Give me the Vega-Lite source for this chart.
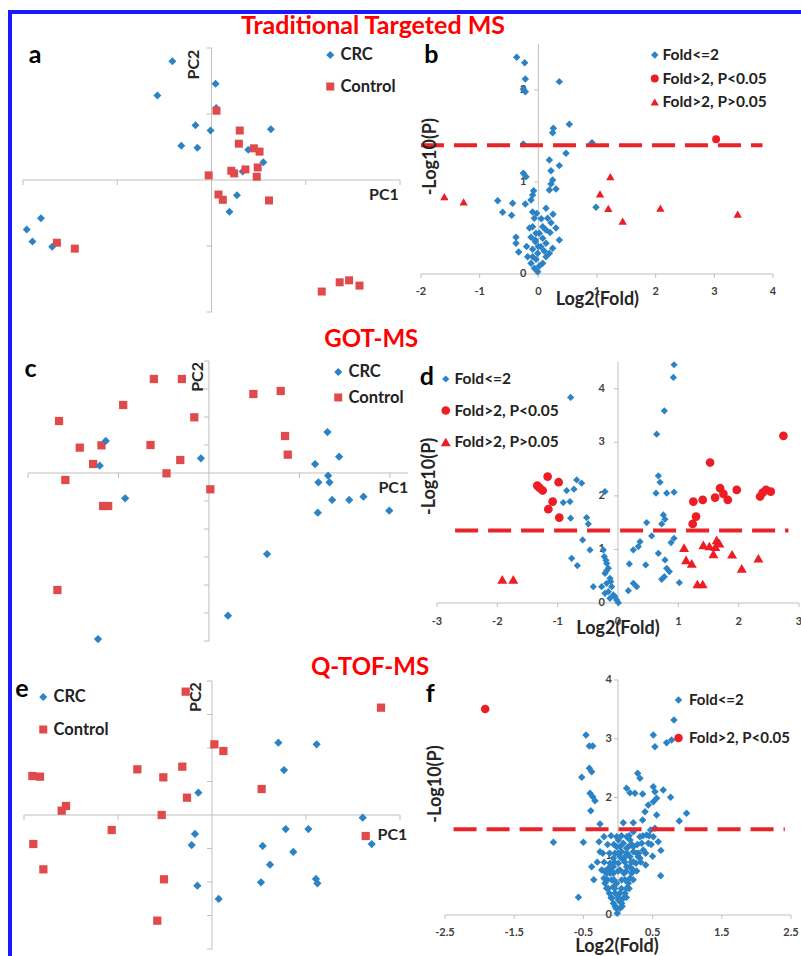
{
"$schema": "https://vega.github.io/schema/vega-lite/v6.json",
"width": 791, "height": 944,
"autosize": {"type": "none"},
"padding": {"left": 10, "top": 12, "right": 0, "bottom": 0},
"background": "white",
"config": {
 "view": {"stroke": "#1a1aff", "strokeWidth": 4, "strokeDash": [792, 1733, 945]},
 "font": "Lato",
 "legend": {"labelFont": "Lato", "labelFontWeight": "bold", "labelColor": "#222222", "padding": 0, "symbolStrokeWidth": 0},
 "text": {"font": "Lato"},
 "tick": {"opacity": 1},
 "rule": {"opacity": 1}
},
"datasets": {
 "a": [
  {"x":-0.415,"y":1.80,"g":"CRC"},{"x":0.043,"y":1.46,"g":"CRC"},{"x":-0.574,"y":1.28,"g":"CRC"},{"x":-0.17,"y":0.83,"g":"CRC"},{"x":-0.01,"y":0.75,"g":"CRC"},{"x":0.63,"y":0.77,"g":"CRC"},{"x":-0.32,"y":0.52,"g":"CRC"},{"x":-0.15,"y":0.49,"g":"CRC"},{"x":0.39,"y":0.46,"g":"CRC"},{"x":0.55,"y":0.27,"g":"CRC"},{"x":0.33,"y":0.13,"g":"CRC"},{"x":0.27,"y":-0.23,"g":"CRC"},{"x":0.19,"y":-0.48,"g":"CRC"},{"x":-1.81,"y":-0.58,"g":"CRC"},{"x":-1.96,"y":-0.75,"g":"CRC"},{"x":-1.90,"y":-0.93,"g":"CRC"},{"x":-1.69,"y":-1.01,"g":"CRC"},{"x":0.05,"y":1.09,"g":"CRC"},
  {"x":0.053,"y":1.05,"g":"Control"},{"x":0.30,"y":0.75,"g":"Control"},{"x":0.29,"y":0.55,"g":"Control"},{"x":0.45,"y":0.48,"g":"Control"},{"x":0.51,"y":0.43,"g":"Control"},{"x":-0.03,"y":0.07,"g":"Control"},{"x":0.21,"y":0.14,"g":"Control"},{"x":0.24,"y":0.10,"g":"Control"},{"x":0.36,"y":0.16,"g":"Control"},{"x":0.49,"y":0.19,"g":"Control"},{"x":0.48,"y":0.05,"g":"Control"},{"x":0.074,"y":-0.22,"g":"Control"},{"x":0.12,"y":-0.30,"g":"Control"},{"x":0.61,"y":-0.31,"g":"Control"},{"x":-1.64,"y":-0.95,"g":"Control"},{"x":-1.45,"y":-1.04,"g":"Control"},{"x":1.17,"y":-1.69,"g":"Control"},{"x":1.36,"y":-1.55,"g":"Control"},{"x":1.46,"y":-1.52,"g":"Control"},{"x":1.57,"y":-1.60,"g":"Control"}
 ],
 "b": [
  {"x":-0.369,"y":2.355,"g":"Fold<=2"},{"x":-0.233,"y":2.297,"g":"Fold<=2"},{"x":-0.222,"y":2.120,"g":"Fold<=2"},{"x":-0.256,"y":2.007,"g":"Fold<=2"},{"x":-0.222,"y":1.982,"g":"Fold<=2"},{"x":0.358,"y":2.091,"g":"Fold<=2"},{"x":0.528,"y":1.627,"g":"Fold<=2"},{"x":0.256,"y":1.583,"g":"Fold<=2"},{"x":0.244,"y":1.536,"g":"Fold<=2"},{"x":-0.256,"y":1.413,"g":"Fold<=2"},{"x":0.915,"y":1.428,"g":"Fold<=2"},{"x":0.472,"y":1.312,"g":"Fold<=2"},{"x":0.188,"y":1.239,"g":"Fold<=2"},{"x":0.358,"y":1.178,"g":"Fold<=2"},{"x":0.216,"y":1.123,"g":"Fold<=2"},{"x":-0.256,"y":1.094,"g":"Fold<=2"},{"x":-0.210,"y":1.058,"g":"Fold<=2"},{"x":0.244,"y":1.022,"g":"Fold<=2"},{"x":0.216,"y":0.978,"g":"Fold<=2"},{"x":0.188,"y":0.913,"g":"Fold<=2"},{"x":0.301,"y":0.924,"g":"Fold<=2"},{"x":-0.080,"y":0.906,"g":"Fold<=2"},{"x":-0.097,"y":0.859,"g":"Fold<=2"},{"x":-0.125,"y":0.804,"g":"Fold<=2"},{"x":-0.222,"y":0.761,"g":"Fold<=2"},{"x":-0.693,"y":0.797,"g":"Fold<=2"},{"x":-0.438,"y":0.768,"g":"Fold<=2"},{"x":-0.608,"y":0.670,"g":"Fold<=2"},{"x":-0.455,"y":0.638,"g":"Fold<=2"},{"x":-0.097,"y":0.674,"g":"Fold<=2"},{"x":-0.028,"y":0.659,"g":"Fold<=2"},{"x":0.131,"y":0.714,"g":"Fold<=2"},{"x":0.983,"y":0.725,"g":"Fold<=2"},{"x":0.216,"y":0.558,"g":"Fold<=2"},{"x":-0.097,"y":0.514,"g":"Fold<=2"},{"x":0.074,"y":0.514,"g":"Fold<=2"},{"x":0.131,"y":0.478,"g":"Fold<=2"},{"x":0.017,"y":0.442,"g":"Fold<=2"},{"x":-0.125,"y":0.399,"g":"Fold<=2"},{"x":-0.051,"y":0.370,"g":"Fold<=2"},{"x":0.358,"y":0.370,"g":"Fold<=2"},{"x":-0.381,"y":0.399,"g":"Fold<=2"},{"x":-0.381,"y":0.333,"g":"Fold<=2"},{"x":0.131,"y":0.333,"g":"Fold<=2"},{"x":0.244,"y":0.279,"g":"Fold<=2"},{"x":-0.335,"y":0.239,"g":"Fold<=2"},{"x":-0.097,"y":0.268,"g":"Fold<=2"},{"x":-0.011,"y":0.225,"g":"Fold<=2"},{"x":0.188,"y":0.225,"g":"Fold<=2"},{"x":-0.040,"y":0.159,"g":"Fold<=2"},{"x":-0.125,"y":0.116,"g":"Fold<=2"},{"x":0.017,"y":0.087,"g":"Fold<=2"},{"x":-0.068,"y":0.062,"g":"Fold<=2"},{"x":-0.011,"y":0.025,"g":"Fold<=2"},{"x":0.074,"y":0.116,"g":"Fold<=2"},{"x":0.131,"y":0.188,"g":"Fold<=2"},{"x":-0.182,"y":0.188,"g":"Fold<=2"},{"x":-0.097,"y":0.188,"g":"Fold<=2"},{"x":0.045,"y":0.297,"g":"Fold<=2"},{"x":0.074,"y":0.388,"g":"Fold<=2"},{"x":0.159,"y":0.605,"g":"Fold<=2"},{"x":-0.068,"y":0.605,"g":"Fold<=2"},{"x":-0.040,"y":0.442,"g":"Fold<=2"},{"x":0.0,"y":0.30,"g":"Fold<=2"},{"x":0.10,"y":0.25,"g":"Fold<=2"},{"x":-0.05,"y":0.35,"g":"Fold<=2"},{"x":0.20,"y":0.45,"g":"Fold<=2"},{"x":-0.15,"y":0.50,"g":"Fold<=2"},{"x":0.05,"y":0.60,"g":"Fold<=2"},{"x":0.25,"y":0.65,"g":"Fold<=2"},{"x":-0.20,"y":0.30,"g":"Fold<=2"},{"x":0.30,"y":0.50,"g":"Fold<=2"},
  {"x":3.03,"y":1.464,"g":"Fold>2, P<0.05"},
  {"x":-1.602,"y":0.841,"g":"Fold>2, P>0.05"},{"x":-1.273,"y":0.783,"g":"Fold>2, P>0.05"},{"x":1.051,"y":0.870,"g":"Fold>2, P>0.05"},{"x":1.227,"y":1.058,"g":"Fold>2, P>0.05"},{"x":1.193,"y":0.714,"g":"Fold>2, P>0.05"},{"x":1.438,"y":0.576,"g":"Fold>2, P>0.05"},{"x":2.080,"y":0.717,"g":"Fold>2, P>0.05"},{"x":3.398,"y":0.652,"g":"Fold>2, P>0.05"}
 ],
 "c": [
  {"x":-1.657,"y":1.857,"g":"Control"},{"x":-1.428,"y":0.905,"g":"Control"},{"x":-1.188,"y":0.988,"g":"Control"},{"x":-1.280,"y":0.321,"g":"Control"},{"x":-1.587,"y":-0.25,"g":"Control"},{"x":-1.170,"y":-1.179,"g":"Control"},{"x":-1.114,"y":-1.179,"g":"Control"},{"x":-0.948,"y":2.429,"g":"Control"},{"x":-0.609,"y":3.357,"g":"Control"},{"x":-0.299,"y":3.357,"g":"Control"},{"x":-0.162,"y":1.988,"g":"Control"},{"x":-0.646,"y":1.0,"g":"Control"},{"x":-0.469,"y":-0.012,"g":"Control"},{"x":-0.317,"y":0.464,"g":"Control"},{"x":0.015,"y":-0.583,"g":"Control"},{"x":0.491,"y":2.821,"g":"Control"},{"x":0.793,"y":2.929,"g":"Control"},{"x":0.841,"y":1.321,"g":"Control"},{"x":0.871,"y":0.655,"g":"Control"},{"x":-1.675,"y":-4.179,"g":"Control"},
  {"x":-1.140,"y":1.143,"g":"CRC"},{"x":-1.207,"y":0.262,"g":"CRC"},{"x":-0.926,"y":-0.905,"g":"CRC"},{"x":-0.089,"y":0.524,"g":"CRC"},{"x":1.310,"y":1.464,"g":"CRC"},{"x":1.439,"y":0.583,"g":"CRC"},{"x":1.173,"y":0.321,"g":"CRC"},{"x":1.317,"y":-0.095,"g":"CRC"},{"x":1.210,"y":-0.333,"g":"CRC"},{"x":1.332,"y":-0.333,"g":"CRC"},{"x":1.362,"y":-0.964,"g":"CRC"},{"x":1.550,"y":-0.964,"g":"CRC"},{"x":1.708,"y":-0.845,"g":"CRC"},{"x":1.993,"y":-1.345,"g":"CRC"},{"x":1.203,"y":-1.417,"g":"CRC"},{"x":0.642,"y":-2.893,"g":"CRC"},{"x":0.210,"y":-5.095,"g":"CRC"},{"x":-1.226,"y":-5.93,"g":"CRC"}
 ],
 "d": [
  {"x":0.929,"y":4.449,"g":"Fold<=2"},{"x":0.918,"y":4.212,"g":"Fold<=2"},{"x":0.768,"y":3.589,"g":"Fold<=2"},{"x":0.641,"y":3.153,"g":"Fold<=2"},{"x":-0.785,"y":3.838,"g":"Fold<=2"},{"x":0.669,"y":2.374,"g":"Fold<=2"},{"x":0.697,"y":2.255,"g":"Fold<=2"},{"x":0.630,"y":2.050,"g":"Fold<=2"},{"x":0.807,"y":2.050,"g":"Fold<=2"},{"x":0.929,"y":2.069,"g":"Fold<=2"},{"x":0.752,"y":1.645,"g":"Fold<=2"},{"x":0.779,"y":1.564,"g":"Fold<=2"},{"x":0.475,"y":1.502,"g":"Fold<=2"},{"x":0.724,"y":1.477,"g":"Fold<=2"},{"x":0.558,"y":1.252,"g":"Fold<=2"},{"x":0.929,"y":1.209,"g":"Fold<=2"},{"x":0.879,"y":1.128,"g":"Fold<=2"},{"x":0.365,"y":1.146,"g":"Fold<=2"},{"x":0.254,"y":0.991,"g":"Fold<=2"},{"x":0.337,"y":1.053,"g":"Fold<=2"},{"x":0.669,"y":0.928,"g":"Fold<=2"},{"x":0.779,"y":0.804,"g":"Fold<=2"},{"x":0.459,"y":0.710,"g":"Fold<=2"},{"x":0.188,"y":0.729,"g":"Fold<=2"},{"x":0.807,"y":0.648,"g":"Fold<=2"},{"x":0.851,"y":0.586,"g":"Fold<=2"},{"x":0.768,"y":0.492,"g":"Fold<=2"},{"x":0.724,"y":0.442,"g":"Fold<=2"},{"x":1.017,"y":0.380,"g":"Fold<=2"},{"x":0.254,"y":0.368,"g":"Fold<=2"},{"x":0.310,"y":0.305,"g":"Fold<=2"},{"x":0.171,"y":0.231,"g":"Fold<=2"},{"x":-0.685,"y":2.299,"g":"Fold<=2"},{"x":-0.603,"y":2.237,"g":"Fold<=2"},{"x":-0.730,"y":2.125,"g":"Fold<=2"},{"x":-0.851,"y":2.100,"g":"Fold<=2"},{"x":-0.796,"y":1.894,"g":"Fold<=2"},{"x":-0.907,"y":1.875,"g":"Fold<=2"},{"x":-0.216,"y":2.081,"g":"Fold<=2"},{"x":-0.785,"y":1.583,"g":"Fold<=2"},{"x":-0.520,"y":1.595,"g":"Fold<=2"},{"x":-0.492,"y":1.477,"g":"Fold<=2"},{"x":-0.586,"y":1.178,"g":"Fold<=2"},{"x":-0.464,"y":0.991,"g":"Fold<=2"},{"x":-0.768,"y":0.835,"g":"Fold<=2"},{"x":-0.674,"y":0.698,"g":"Fold<=2"},{"x":-0.243,"y":0.991,"g":"Fold<=2"},{"x":-0.227,"y":0.866,"g":"Fold<=2"},{"x":-0.188,"y":0.741,"g":"Fold<=2"},{"x":-0.160,"y":0.648,"g":"Fold<=2"},{"x":-0.216,"y":0.555,"g":"Fold<=2"},{"x":-0.133,"y":0.461,"g":"Fold<=2"},{"x":-0.188,"y":0.368,"g":"Fold<=2"},{"x":-0.105,"y":0.305,"g":"Fold<=2"},{"x":-0.160,"y":0.212,"g":"Fold<=2"},{"x":-0.077,"y":0.150,"g":"Fold<=2"},{"x":-0.022,"y":0.056,"g":"Fold<=2"},{"x":-0.050,"y":0.118,"g":"Fold<=2"},{"x":-0.409,"y":0.305,"g":"Fold<=2"},{"x":-0.271,"y":0.305,"g":"Fold<=2"},{"x":-0.216,"y":0.181,"g":"Fold<=2"},{"x":-0.133,"y":0.087,"g":"Fold<=2"},{"x":0.006,"y":0.006,"g":"Fold<=2"},{"x":-0.200,"y":0.800,"g":"Fold<=2"},{"x":-0.190,"y":0.600,"g":"Fold<=2"},{"x":-0.120,"y":0.400,"g":"Fold<=2"},
  {"x":-1.338,"y":2.193,"g":"Fold>2, P<0.05"},{"x":-1.249,"y":2.100,"g":"Fold>2, P<0.05"},{"x":-1.166,"y":2.361,"g":"Fold>2, P<0.05"},{"x":-0.984,"y":2.255,"g":"Fold>2, P<0.05"},{"x":-1.083,"y":1.894,"g":"Fold>2, P<0.05"},{"x":-1.155,"y":1.751,"g":"Fold>2, P<0.05"},{"x":-0.973,"y":1.595,"g":"Fold>2, P<0.05"},{"x":-1.300,"y":2.150,"g":"Fold>2, P<0.05"},{"x":2.742,"y":3.121,"g":"Fold>2, P<0.05"},{"x":1.526,"y":2.623,"g":"Fold>2, P<0.05"},{"x":1.249,"y":1.894,"g":"Fold>2, P<0.05"},{"x":1.404,"y":1.925,"g":"Fold>2, P<0.05"},{"x":1.294,"y":1.614,"g":"Fold>2, P<0.05"},{"x":1.238,"y":1.477,"g":"Fold>2, P<0.05"},{"x":1.609,"y":1.969,"g":"Fold>2, P<0.05"},{"x":1.692,"y":2.143,"g":"Fold>2, P<0.05"},{"x":1.747,"y":2.037,"g":"Fold>2, P<0.05"},{"x":1.819,"y":1.925,"g":"Fold>2, P<0.05"},{"x":1.968,"y":2.112,"g":"Fold>2, P<0.05"},{"x":2.355,"y":1.988,"g":"Fold>2, P<0.05"},{"x":2.399,"y":2.062,"g":"Fold>2, P<0.05"},{"x":2.454,"y":2.112,"g":"Fold>2, P<0.05"},{"x":2.532,"y":2.081,"g":"Fold>2, P<0.05"},
  {"x":-1.918,"y":0.442,"g":"Fold>2, P>0.05"},{"x":-1.736,"y":0.442,"g":"Fold>2, P>0.05"},{"x":1.095,"y":1.034,"g":"Fold>2, P>0.05"},{"x":1.128,"y":0.804,"g":"Fold>2, P>0.05"},{"x":1.222,"y":0.741,"g":"Fold>2, P>0.05"},{"x":1.316,"y":0.355,"g":"Fold>2, P>0.05"},{"x":1.404,"y":0.355,"g":"Fold>2, P>0.05"},{"x":1.415,"y":1.084,"g":"Fold>2, P>0.05"},{"x":1.515,"y":1.065,"g":"Fold>2, P>0.05"},{"x":1.581,"y":0.916,"g":"Fold>2, P>0.05"},{"x":1.636,"y":1.178,"g":"Fold>2, P>0.05"},{"x":1.681,"y":1.115,"g":"Fold>2, P>0.05"},{"x":1.614,"y":1.053,"g":"Fold>2, P>0.05"},{"x":1.891,"y":0.910,"g":"Fold>2, P>0.05"},{"x":2.051,"y":0.648,"g":"Fold>2, P>0.05"},{"x":2.327,"y":0.835,"g":"Fold>2, P>0.05"}
 ],
 "e": [
  {"x":-0.280,"y":3.682,"g":"Control"},{"x":1.798,"y":3.204,"g":"Control"},{"x":0.025,"y":2.109,"g":"Control"},{"x":0.121,"y":1.910,"g":"Control"},{"x":-0.794,"y":1.363,"g":"Control"},{"x":-0.518,"y":1.124,"g":"Control"},{"x":-0.316,"y":1.443,"g":"Control"},{"x":-1.911,"y":1.164,"g":"Control"},{"x":-1.830,"y":1.144,"g":"Control"},{"x":0.528,"y":0.776,"g":"Control"},{"x":-0.266,"y":0.517,"g":"Control"},{"x":-1.599,"y":0.129,"g":"Control"},{"x":-1.553,"y":0.269,"g":"Control"},{"x":-0.535,"y":0.0,"g":"Control"},{"x":-1.067,"y":-0.448,"g":"Control"},{"x":-1.901,"y":-0.866,"g":"Control"},{"x":-1.794,"y":-1.622,"g":"Control"},{"x":-0.511,"y":-1.920,"g":"Control"},{"x":-0.582,"y":-3.154,"g":"Control"},{"x":1.635,"y":-0.627,"g":"Control"},
  {"x":0.706,"y":2.159,"g":"CRC"},{"x":1.113,"y":2.109,"g":"CRC"},{"x":0.766,"y":1.343,"g":"CRC"},{"x":-0.145,"y":0.667,"g":"CRC"},{"x":1.603,"y":-0.080,"g":"CRC"},{"x":0.784,"y":-0.418,"g":"CRC"},{"x":1.025,"y":-0.418,"g":"CRC"},{"x":-0.181,"y":-0.567,"g":"CRC"},{"x":-0.216,"y":-0.896,"g":"CRC"},{"x":0.539,"y":-0.925,"g":"CRC"},{"x":0.865,"y":-1.104,"g":"CRC"},{"x":1.699,"y":-0.866,"g":"CRC"},{"x":0.617,"y":-1.483,"g":"CRC"},{"x":0.521,"y":-2.010,"g":"CRC"},{"x":1.106,"y":-1.910,"g":"CRC"},{"x":1.121,"y":-2.040,"g":"CRC"},{"x":-0.156,"y":-2.109,"g":"CRC"},{"x":0.071,"y":-2.507,"g":"CRC"}
 ],
 "f": [
  {"x":-0.462,"y":3.064,"g":"Fold<=2"},{"x":-0.414,"y":2.877,"g":"Fold<=2"},{"x":-0.366,"y":2.877,"g":"Fold<=2"},{"x":-0.524,"y":2.343,"g":"Fold<=2"},{"x":-0.414,"y":2.496,"g":"Fold<=2"},{"x":-0.380,"y":2.440,"g":"Fold<=2"},{"x":-0.404,"y":2.071,"g":"Fold<=2"},{"x":-0.366,"y":2.014,"g":"Fold<=2"},{"x":-0.394,"y":1.776,"g":"Fold<=2"},{"x":-0.260,"y":1.549,"g":"Fold<=2"},{"x":-0.332,"y":1.946,"g":"Fold<=2"},{"x":-0.933,"y":1.237,"g":"Fold<=2"},{"x":-0.500,"y":1.237,"g":"Fold<=2"},{"x":-0.274,"y":1.248,"g":"Fold<=2"},{"x":-0.202,"y":1.333,"g":"Fold<=2"},{"x":-0.260,"y":1.078,"g":"Fold<=2"},{"x":-0.380,"y":0.823,"g":"Fold<=2"},{"x":-0.236,"y":0.766,"g":"Fold<=2"},{"x":-0.572,"y":0.301,"g":"Fold<=2"},
  {"x":0.808,"y":3.319,"g":"Fold<=2"},{"x":0.510,"y":3.064,"g":"Fold<=2"},{"x":0.534,"y":2.865,"g":"Fold<=2"},{"x":0.702,"y":2.933,"g":"Fold<=2"},{"x":0.774,"y":2.979,"g":"Fold<=2"},{"x":0.284,"y":2.411,"g":"Fold<=2"},{"x":0.317,"y":2.326,"g":"Fold<=2"},{"x":0.125,"y":2.156,"g":"Fold<=2"},{"x":0.173,"y":2.082,"g":"Fold<=2"},{"x":0.245,"y":2.071,"g":"Fold<=2"},{"x":0.356,"y":2.060,"g":"Fold<=2"},{"x":0.510,"y":2.184,"g":"Fold<=2"},{"x":0.534,"y":2.099,"g":"Fold<=2"},{"x":0.654,"y":2.128,"g":"Fold<=2"},{"x":0.760,"y":2.003,"g":"Fold<=2"},{"x":0.438,"y":1.872,"g":"Fold<=2"},{"x":0.558,"y":1.986,"g":"Fold<=2"},{"x":0.510,"y":1.929,"g":"Fold<=2"},{"x":0.558,"y":1.702,"g":"Fold<=2"},{"x":0.991,"y":1.730,"g":"Fold<=2"},{"x":0.885,"y":1.600,"g":"Fold<=2"},{"x":0.390,"y":1.759,"g":"Fold<=2"},{"x":0.356,"y":1.617,"g":"Fold<=2"},{"x":0.077,"y":1.572,"g":"Fold<=2"},{"x":0.221,"y":1.572,"g":"Fold<=2"},{"x":0.471,"y":1.447,"g":"Fold<=2"},{"x":0.534,"y":1.475,"g":"Fold<=2"},
  {"x":-0.019,"y":1.333,"g":"Fold<=2"},{"x":0.125,"y":1.333,"g":"Fold<=2"},{"x":0.221,"y":1.418,"g":"Fold<=2"},{"x":0.317,"y":1.333,"g":"Fold<=2"},{"x":0.414,"y":1.362,"g":"Fold<=2"},{"x":0.510,"y":1.333,"g":"Fold<=2"},{"x":0.582,"y":1.248,"g":"Fold<=2"},{"x":0.438,"y":1.220,"g":"Fold<=2"},{"x":0.366,"y":1.106,"g":"Fold<=2"},{"x":0.269,"y":1.050,"g":"Fold<=2"},{"x":0.173,"y":0.993,"g":"Fold<=2"},{"x":0.221,"y":0.908,"g":"Fold<=2"},{"x":0.317,"y":0.965,"g":"Fold<=2"},{"x":0.173,"y":0.823,"g":"Fold<=2"},{"x":0.077,"y":0.936,"g":"Fold<=2"},{"x":0.029,"y":1.163,"g":"Fold<=2"},{"x":0.125,"y":1.135,"g":"Fold<=2"},{"x":0.221,"y":1.163,"g":"Fold<=2"},{"x":0.342,"y":1.220,"g":"Fold<=2"},{"x":0.616,"y":0.670,"g":"Fold<=2"},
  {"x":-0.010,"y":0.028,"g":"Fold<=2"},{"x":-0.029,"y":0.113,"g":"Fold<=2"},{"x":0.029,"y":0.113,"g":"Fold<=2"},{"x":-0.067,"y":0.199,"g":"Fold<=2"},{"x":0.053,"y":0.199,"g":"Fold<=2"},{"x":-0.091,"y":0.284,"g":"Fold<=2"},{"x":0.077,"y":0.284,"g":"Fold<=2"},{"x":-0.125,"y":0.369,"g":"Fold<=2"},{"x":0.101,"y":0.369,"g":"Fold<=2"},{"x":-0.164,"y":0.454,"g":"Fold<=2"},{"x":0.125,"y":0.454,"g":"Fold<=2"},{"x":-0.188,"y":0.539,"g":"Fold<=2"},{"x":0.149,"y":0.539,"g":"Fold<=2"},{"x":-0.202,"y":0.624,"g":"Fold<=2"},{"x":0.173,"y":0.624,"g":"Fold<=2"},{"x":-0.164,"y":0.709,"g":"Fold<=2"},{"x":0.197,"y":0.709,"g":"Fold<=2"},{"x":-0.139,"y":0.794,"g":"Fold<=2"},{"x":0.029,"y":0.766,"g":"Fold<=2"},{"x":0.221,"y":0.766,"g":"Fold<=2"},{"x":-0.115,"y":0.879,"g":"Fold<=2"},{"x":0.005,"y":0.879,"g":"Fold<=2"},{"x":0.260,"y":0.879,"g":"Fold<=2"},{"x":-0.067,"y":0.965,"g":"Fold<=2"},{"x":0.029,"y":0.993,"g":"Fold<=2"},{"x":0.293,"y":0.993,"g":"Fold<=2"},{"x":-0.043,"y":1.050,"g":"Fold<=2"},{"x":0.053,"y":1.078,"g":"Fold<=2"},{"x":-0.019,"y":1.163,"g":"Fold<=2"},{"x":0.077,"y":1.220,"g":"Fold<=2"},{"x":0.005,"y":1.277,"g":"Fold<=2"},{"x":0.173,"y":1.277,"g":"Fold<=2"},{"x":-0.067,"y":0.709,"g":"Fold<=2"},{"x":-0.019,"y":0.539,"g":"Fold<=2"},{"x":0.029,"y":0.369,"g":"Fold<=2"},{"x":-0.043,"y":0.369,"g":"Fold<=2"},{"x":0.053,"y":0.596,"g":"Fold<=2"},{"x":-0.067,"y":0.482,"g":"Fold<=2"},{"x":0.005,"y":0.255,"g":"Fold<=2"},{"x":-0.091,"y":0.596,"g":"Fold<=2"},{"x":0.087,"y":0.709,"g":"Fold<=2"},{"x":0.125,"y":0.823,"g":"Fold<=2"},{"x":-0.115,"y":0.709,"g":"Fold<=2"},{"x":-0.164,"y":0.596,"g":"Fold<=2"},{"x":0.101,"y":0.993,"g":"Fold<=2"},{"x":0.149,"y":1.163,"g":"Fold<=2"},{"x":0.221,"y":1.078,"g":"Fold<=2"},{"x":-0.067,"y":0.823,"g":"Fold<=2"},
  {"x":-0.04,"y":0.15,"g":"Fold<=2"},{"x":0.06,"y":0.15,"g":"Fold<=2"},{"x":-0.10,"y":0.30,"g":"Fold<=2"},{"x":0.0,"y":0.30,"g":"Fold<=2"},{"x":0.12,"y":0.30,"g":"Fold<=2"},{"x":-0.14,"y":0.45,"g":"Fold<=2"},{"x":-0.05,"y":0.45,"g":"Fold<=2"},{"x":0.05,"y":0.45,"g":"Fold<=2"},{"x":0.16,"y":0.45,"g":"Fold<=2"},{"x":-0.15,"y":0.60,"g":"Fold<=2"},{"x":-0.06,"y":0.60,"g":"Fold<=2"},{"x":0.10,"y":0.60,"g":"Fold<=2"},{"x":0.22,"y":0.60,"g":"Fold<=2"},{"x":-0.20,"y":0.75,"g":"Fold<=2"},{"x":-0.10,"y":0.75,"g":"Fold<=2"},{"x":0.0,"y":0.75,"g":"Fold<=2"},{"x":0.12,"y":0.75,"g":"Fold<=2"},{"x":0.27,"y":0.75,"g":"Fold<=2"},{"x":-0.20,"y":0.90,"g":"Fold<=2"},{"x":-0.05,"y":0.90,"g":"Fold<=2"},{"x":0.10,"y":0.90,"g":"Fold<=2"},{"x":0.19,"y":0.90,"g":"Fold<=2"},{"x":0.33,"y":0.90,"g":"Fold<=2"},{"x":-0.22,"y":1.05,"g":"Fold<=2"},{"x":-0.12,"y":1.05,"g":"Fold<=2"},{"x":0.0,"y":1.05,"g":"Fold<=2"},{"x":0.13,"y":1.05,"g":"Fold<=2"},{"x":0.30,"y":1.05,"g":"Fold<=2"},{"x":0.40,"y":1.05,"g":"Fold<=2"},{"x":-0.15,"y":1.20,"g":"Fold<=2"},{"x":-0.06,"y":1.20,"g":"Fold<=2"},{"x":0.20,"y":1.20,"g":"Fold<=2"},{"x":0.28,"y":1.20,"g":"Fold<=2"},{"x":0.48,"y":1.20,"g":"Fold<=2"},{"x":-0.10,"y":1.35,"g":"Fold<=2"},{"x":0.05,"y":1.35,"g":"Fold<=2"},{"x":0.16,"y":1.35,"g":"Fold<=2"},{"x":0.36,"y":1.35,"g":"Fold<=2"},{"x":0.45,"y":1.35,"g":"Fold<=2"},{"x":0.62,"y":1.10,"g":"Fold<=2"},{"x":0.50,"y":1.00,"g":"Fold<=2"},{"x":0.40,"y":0.85,"g":"Fold<=2"},{"x":-0.30,"y":0.90,"g":"Fold<=2"},{"x":-0.35,"y":0.60,"g":"Fold<=2"},
  {"x":-1.919,"y":3.506,"g":"Fold>2, P<0.05"}
 ]
},
"layer": [
 {"data": {"name": "a"}, "layer": [
  {"data": {"values": [{}]}, "mark": {"type": "rule", "color": "#bfbfbf", "strokeWidth": 1}, "encoding": {"x": {"datum": -2, "axis": null}, "x2": {"datum": 2}, "y": {"datum": 0, "axis": null}}},
  {"data": {"values": [{}]}, "mark": {"type": "rule", "color": "#bfbfbf", "strokeWidth": 1}, "encoding": {"x": {"datum": 0, "axis": null}, "y": {"datum": -2, "axis": null}, "y2": {"datum": 2}}},
  {"data": {"values": [{"v": -2}, {"v": -1}, {"v": 1}, {"v": 2}]}, "mark": {"type": "tick", "orient": "vertical", "size": 5, "thickness": 1, "color": "#bfbfbf", "yOffset": 2.5}, "encoding": {"x": {"field": "v", "type": "quantitative", "axis": null}, "y": {"datum": 0, "axis": null}}},
  {"data": {"values": [{"v": -2}, {"v": -1}, {"v": 1}, {"v": 2}]}, "mark": {"type": "tick", "orient": "horizontal", "size": 5, "thickness": 1, "color": "#bfbfbf", "xOffset": -2.5}, "encoding": {"y": {"field": "v", "type": "quantitative", "axis": null}, "x": {"datum": 0, "axis": null}}},
  {"mark": {"type": "point", "filled": true, "opacity": 1, "size": 64},
   "encoding": {
    "x": {"field": "x", "type": "quantitative", "scale": {"domain": [-2, 2], "range": [13, 390], "nice": false, "zero": false}, "axis": null},
    "y": {"field": "y", "type": "quantitative", "scale": {"domain": [-2, 2], "range": [300, 36], "nice": false, "zero": false}, "axis": null},
    "color": {"field": "g", "type": "nominal", "scale": {"domain": ["CRC", "Control"], "range": ["#2b83c6", "#e04a4a"]},
      "legend": {"orient": "none", "legendX": 312, "legendY": 34.75, "title": null, "labelFontSize": 16.5, "labelOffset": 2, "rowPadding": 14.5, "symbolSize": 64}},
    "shape": {"field": "g", "type": "nominal", "scale": {"domain": ["CRC", "Control"], "range": ["diamond", "square"]},
      "legend": {"orient": "none", "legendX": 312, "legendY": 34.75, "title": null, "labelFontSize": 16.5, "labelOffset": 2, "rowPadding": 14.5, "symbolSize": 64}}
   }},
  {"data": {"values": [{"t": "PC1"}]}, "mark": {"type": "text", "fontSize": 16, "fontWeight": "bold", "color": "#262626", "align": "center", "baseline": "middle", "dy": 15},
   "encoding": {"x": {"datum": 1.83, "axis": null}, "y": {"datum": 0, "axis": null}, "text": {"field": "t"}}},
  {"data": {"values": [{"t": "PC2"}]}, "mark": {"type": "text", "fontSize": 16, "fontWeight": "bold", "color": "#262626", "align": "center", "baseline": "middle", "angle": 270},
   "encoding": {"x": {"datum": -0.181, "axis": null}, "y": {"datum": 1.75, "axis": null}, "text": {"field": "t"}}},
  {"data": {"values": [{"t": "a"}]}, "mark": {"type": "text", "fontSize": 25, "fontWeight": "bold", "color": "#000000", "align": "center", "baseline": "alphabetic"},
   "encoding": {"x": {"datum": -1.872, "axis": null}, "y": {"datum": 1.78, "axis": null}, "text": {"field": "t"}}},
  {"data": {"values": [{"t": "Traditional Targeted MS"}]}, "mark": {"type": "text", "fontSize": 25, "fontWeight": "bold", "color": "#ff0000", "align": "center", "baseline": "alphabetic"},
   "encoding": {"x": {"datum": 1.713, "axis": null}, "y": {"datum": 2.205, "axis": null}, "text": {"field": "t"}}}
 ]},
 {"data": {"name": "b"}, "layer": [
  {"data": {"values": [{}]}, "mark": {"type": "rule", "color": "#bfbfbf", "strokeWidth": 1}, "encoding": {"x": {"datum": -2, "axis": null}, "x2": {"datum": 4}, "y": {"datum": 0, "axis": null}}},
  {"data": {"values": [{}]}, "mark": {"type": "rule", "color": "#bfbfbf", "strokeWidth": 1}, "encoding": {"x": {"datum": 0, "axis": null}, "y": {"datum": 0, "axis": null}, "y2": {"datum": 2.5}}},
  {"data": {"values": [{"v": -2}, {"v": -1}, {"v": 0}, {"v": 1}, {"v": 2}, {"v": 3}, {"v": 4}]}, "mark": {"type": "tick", "orient": "vertical", "size": 4, "thickness": 1, "color": "#bfbfbf", "yOffset": 2}, "encoding": {"x": {"field": "v", "type": "quantitative", "axis": null}, "y": {"datum": 0, "axis": null}}},
  {"data": {"values": [{"v": -2}, {"v": -1}, {"v": 0}, {"v": 1}, {"v": 2}, {"v": 3}, {"v": 4}]}, "mark": {"type": "text", "fontSize": 11, "fontWeight": "bold", "color": "#404040", "align": "center", "baseline": "middle", "dy": 17.5}, "encoding": {"x": {"field": "v", "type": "quantitative", "axis": null}, "y": {"datum": 0, "axis": null}, "text": {"field": "v", "type": "nominal"}}},
  {"data": {"values": [{"v": 0}, {"v": 1}, {"v": 2}]}, "mark": {"type": "tick", "orient": "horizontal", "size": 4, "thickness": 1, "color": "#bfbfbf", "xOffset": -2}, "encoding": {"y": {"field": "v", "type": "quantitative", "axis": null}, "x": {"datum": 0, "axis": null}}},
  {"data": {"values": [{"v": 0}, {"v": 1}, {"v": 2}]}, "mark": {"type": "text", "fontSize": 11, "fontWeight": "bold", "color": "#404040", "align": "right", "baseline": "middle", "dx": -12}, "encoding": {"y": {"field": "v", "type": "quantitative", "axis": null}, "x": {"datum": 0, "axis": null}, "text": {"field": "v", "type": "nominal"}}},
  {"mark": {"type": "point", "filled": true, "opacity": 1},
   "encoding": {
    "x": {"field": "x", "type": "quantitative", "scale": {"domain": [-2, 4], "range": [411, 763], "nice": false, "zero": false}, "axis": null},
    "y": {"field": "y", "type": "quantitative", "scale": {"domain": [0, 2.5], "range": [262, 32], "nice": false, "zero": false}, "axis": null},
    "color": {"field": "g", "type": "nominal", "scale": {"domain": ["Fold<=2", "Fold>2, P<0.05", "Fold>2, P>0.05"], "range": ["#2b83c6", "#ee1c24", "#ee1c24"]},
      "legend": {"orient": "none", "legendX": 637, "legendY": 35.25, "title": null, "labelFontSize": 15.5, "labelOffset": 0, "rowPadding": 6.5, "symbolSize": 64}},
    "shape": {"field": "g", "type": "nominal", "scale": {"domain": ["Fold<=2", "Fold>2, P<0.05", "Fold>2, P>0.05"], "range": ["diamond", "circle", "triangle-up"]},
      "legend": {"orient": "none", "legendX": 637, "legendY": 35.25, "title": null, "labelFontSize": 15.5, "labelOffset": 0, "rowPadding": 6.5, "symbolSize": 64}},
    "size": {"field": "g", "type": "ordinal", "scale": {"domain": ["Fold<=2", "Fold>2, P<0.05", "Fold>2, P>0.05"], "range": [56, 70, 64]}, "legend": null}
   }},
  {"data": {"values": [{}]}, "mark": {"type": "rule", "color": "#e8232a", "strokeWidth": 4, "strokeDash": [23, 10]},
   "encoding": {"x": {"datum": -2, "axis": null}, "x2": {"datum": 3.82}, "y": {"datum": 1.4, "axis": null}}},
  {"data": {"values": [{"t": "Log2(Fold)"}]}, "mark": {"type": "text", "fontSize": 18, "fontWeight": "bold", "color": "#262626", "align": "center", "baseline": "middle", "dy": 25.5},
   "encoding": {"x": {"datum": 1.006, "axis": null}, "y": {"datum": 0, "axis": null}, "text": {"field": "t"}}},
  {"data": {"values": [{"t": "-Log10(P)"}]}, "mark": {"type": "text", "fontSize": 18, "fontWeight": "bold", "color": "#262626", "align": "center", "baseline": "middle", "angle": 270},
   "encoding": {"x": {"datum": -1.829, "axis": null}, "y": {"datum": 1.275, "axis": null}, "text": {"field": "t"}}},
  {"data": {"values": [{"t": "b"}]}, "mark": {"type": "text", "fontSize": 25, "fontWeight": "bold", "color": "#000000", "align": "center", "baseline": "alphabetic"},
   "encoding": {"x": {"datum": -1.824, "axis": null}, "y": {"datum": 2.293, "axis": null}, "text": {"field": "t"}}}
 ]},
 {"data": {"name": "c"}, "layer": [
  {"data": {"values": [{}]}, "mark": {"type": "rule", "color": "#bfbfbf", "strokeWidth": 1}, "encoding": {"x": {"datum": -2, "axis": null}, "x2": {"datum": 2.2}, "y": {"datum": 0, "axis": null}}},
  {"data": {"values": [{}]}, "mark": {"type": "rule", "color": "#bfbfbf", "strokeWidth": 1}, "encoding": {"x": {"datum": 0, "axis": null}, "y": {"datum": -6, "axis": null}, "y2": {"datum": 4}}},
  {"data": {"values": [{"v": -2}, {"v": -1}, {"v": 1}, {"v": 2}]}, "mark": {"type": "tick", "orient": "vertical", "size": 5, "thickness": 1, "color": "#bfbfbf", "yOffset": 2.5}, "encoding": {"x": {"field": "v", "type": "quantitative", "axis": null}, "y": {"datum": 0, "axis": null}}},
  {"data": {"values": [{"v": -6}, {"v": -5}, {"v": -4}, {"v": -3}, {"v": -2}, {"v": -1}, {"v": 1}, {"v": 2}, {"v": 3}, {"v": 4}]}, "mark": {"type": "tick", "orient": "horizontal", "size": 5, "thickness": 1, "color": "#bfbfbf", "xOffset": -2.5}, "encoding": {"y": {"field": "v", "type": "quantitative", "axis": null}, "x": {"datum": 0, "axis": null}}},
  {"mark": {"type": "point", "filled": true, "opacity": 1, "size": 68},
   "encoding": {
    "x": {"field": "x", "type": "quantitative", "scale": {"domain": [-2, 2.2], "range": [18, 398], "nice": false, "zero": false}, "axis": null},
    "y": {"field": "y", "type": "quantitative", "scale": {"domain": [-6, 4], "range": [629, 349], "nice": false, "zero": false}, "axis": null},
    "color": {"field": "g", "type": "nominal", "scale": {"domain": ["CRC", "Control"], "range": ["#2b83c6", "#e04a4a"]},
      "legend": {"orient": "none", "legendX": 320, "legendY": 351.75, "title": null, "labelFontSize": 16.5, "labelOffset": 2, "rowPadding": 8.5, "symbolSize": 64}},
    "shape": {"field": "g", "type": "nominal", "scale": {"domain": ["CRC", "Control"], "range": ["diamond", "square"]},
      "legend": {"orient": "none", "legendX": 320, "legendY": 351.75, "title": null, "labelFontSize": 16.5, "labelOffset": 2, "rowPadding": 8.5, "symbolSize": 64}}
   }},
  {"data": {"values": [{"t": "PC1"}]}, "mark": {"type": "text", "fontSize": 16, "fontWeight": "bold", "color": "#262626", "align": "center", "baseline": "middle", "dy": 15},
   "encoding": {"x": {"datum": 2.038, "axis": null}, "y": {"datum": 0, "axis": null}, "text": {"field": "t"}}},
  {"data": {"values": [{"t": "PC2"}]}, "mark": {"type": "text", "fontSize": 16, "fontWeight": "bold", "color": "#262626", "align": "center", "baseline": "middle", "angle": 270},
   "encoding": {"x": {"datum": -0.122, "axis": null}, "y": {"datum": 3.43, "axis": null}, "text": {"field": "t"}}},
  {"data": {"values": [{"t": "c"}]}, "mark": {"type": "text", "fontSize": 25, "fontWeight": "bold", "color": "#000000", "align": "center", "baseline": "alphabetic"},
   "encoding": {"x": {"datum": -1.971, "axis": null}, "y": {"datum": 3.429, "axis": null}, "text": {"field": "t"}}},
  {"data": {"values": [{"t": "GOT-MS"}]}, "mark": {"type": "text", "fontSize": 24, "fontWeight": "bold", "color": "#ff0000", "align": "center", "baseline": "alphabetic"},
   "encoding": {"x": {"datum": 1.794, "axis": null}, "y": {"datum": 4.5, "axis": null}, "text": {"field": "t"}}}
 ]},
 {"data": {"name": "d"}, "layer": [
  {"data": {"values": [{}]}, "mark": {"type": "rule", "color": "#bfbfbf", "strokeWidth": 1}, "encoding": {"x": {"datum": -3, "axis": null}, "x2": {"datum": 3}, "y": {"datum": 0, "axis": null}}},
  {"data": {"values": [{}]}, "mark": {"type": "rule", "color": "#bfbfbf", "strokeWidth": 1}, "encoding": {"x": {"datum": 0, "axis": null}, "y": {"datum": 0, "axis": null}, "y2": {"datum": 4.5}}},
  {"data": {"values": [{"v": -3}, {"v": -2}, {"v": -1}, {"v": 0}, {"v": 1}, {"v": 2}, {"v": 3}]}, "mark": {"type": "tick", "orient": "vertical", "size": 4, "thickness": 1, "color": "#bfbfbf", "yOffset": 2}, "encoding": {"x": {"field": "v", "type": "quantitative", "axis": null}, "y": {"datum": 0, "axis": null}}},
  {"data": {"values": [{"v": -3}, {"v": -2}, {"v": -1}, {"v": 0}, {"v": 1}, {"v": 2}, {"v": 3}]}, "mark": {"type": "text", "fontSize": 11, "fontWeight": "bold", "color": "#404040", "align": "center", "baseline": "middle", "dy": 18.5}, "encoding": {"x": {"field": "v", "type": "quantitative", "axis": null}, "y": {"datum": 0, "axis": null}, "text": {"field": "v", "type": "nominal"}}},
  {"data": {"values": [{"v": 0}, {"v": 1}, {"v": 2}, {"v": 3}, {"v": 4}]}, "mark": {"type": "tick", "orient": "horizontal", "size": 4, "thickness": 1, "color": "#bfbfbf", "xOffset": -2}, "encoding": {"y": {"field": "v", "type": "quantitative", "axis": null}, "x": {"datum": 0, "axis": null}}},
  {"data": {"values": [{"v": 0}, {"v": 1}, {"v": 2}, {"v": 3}, {"v": 4}]}, "mark": {"type": "text", "fontSize": 11, "fontWeight": "bold", "color": "#404040", "align": "right", "baseline": "middle", "dx": -13}, "encoding": {"y": {"field": "v", "type": "quantitative", "axis": null}, "x": {"datum": 0, "axis": null}, "text": {"field": "v", "type": "nominal"}}},
  {"mark": {"type": "point", "filled": true, "opacity": 1},
   "encoding": {
    "x": {"field": "x", "type": "quantitative", "scale": {"domain": [-3, 3], "range": [427, 789], "nice": false, "zero": false}, "axis": null},
    "y": {"field": "y", "type": "quantitative", "scale": {"domain": [0, 4.5], "range": [591, 350], "nice": false, "zero": false}, "axis": null},
    "color": {"field": "g", "type": "nominal", "scale": {"domain": ["Fold<=2", "Fold>2, P<0.05", "Fold>2, P>0.05"], "range": ["#2b83c6", "#ee1c24", "#ee1c24"]},
      "legend": {"orient": "none", "legendX": 428, "legendY": 359.25, "title": null, "labelFontSize": 15.5, "labelOffset": 1, "rowPadding": 14.5, "symbolSize": 64}},
    "shape": {"field": "g", "type": "nominal", "scale": {"domain": ["Fold<=2", "Fold>2, P<0.05", "Fold>2, P>0.05"], "range": ["diamond", "circle", "triangle-up"]},
      "legend": {"orient": "none", "legendX": 428, "legendY": 359.25, "title": null, "labelFontSize": 15.5, "labelOffset": 1, "rowPadding": 14.5, "symbolSize": 64}},
    "size": {"field": "g", "type": "ordinal", "scale": {"domain": ["Fold<=2", "Fold>2, P<0.05", "Fold>2, P>0.05"], "range": [52, 100, 72]}, "legend": null}
   }},
  {"data": {"values": [{}]}, "mark": {"type": "rule", "color": "#e8232a", "strokeWidth": 4, "strokeDash": [23, 10]},
   "encoding": {"x": {"datum": -2.7, "axis": null}, "x2": {"datum": 2.825}, "y": {"datum": 1.352, "axis": null}}},
  {"data": {"values": [{"t": "Log2(Fold)"}]}, "mark": {"type": "text", "fontSize": 18, "fontWeight": "bold", "color": "#262626", "align": "center", "baseline": "middle", "dy": 26},
   "encoding": {"x": {"datum": 0, "axis": null}, "y": {"datum": 0, "axis": null}, "text": {"field": "t"}}},
  {"data": {"values": [{"t": "-Log10(P)"}]}, "mark": {"type": "text", "fontSize": 18, "fontWeight": "bold", "color": "#262626", "align": "center", "baseline": "middle", "angle": 270},
   "encoding": {"x": {"datum": -3.118, "axis": null}, "y": {"datum": 2.364, "axis": null}, "text": {"field": "t"}}},
  {"data": {"values": [{"t": "d"}]}, "mark": {"type": "text", "fontSize": 25, "fontWeight": "bold", "color": "#000000", "align": "center", "baseline": "alphabetic"},
   "encoding": {"x": {"datum": -3.167, "axis": null}, "y": {"datum": 4.075, "axis": null}, "text": {"field": "t"}}}
 ]},
 {"data": {"name": "e"}, "layer": [
  {"data": {"values": [{}]}, "mark": {"type": "rule", "color": "#bfbfbf", "strokeWidth": 1}, "encoding": {"x": {"datum": -2, "axis": null}, "x2": {"datum": 2}, "y": {"datum": 0, "axis": null}}},
  {"data": {"values": [{}]}, "mark": {"type": "rule", "color": "#bfbfbf", "strokeWidth": 1}, "encoding": {"x": {"datum": 0, "axis": null}, "y": {"datum": -4, "axis": null}, "y2": {"datum": 4}}},
  {"data": {"values": [{"v": -2}, {"v": -1}, {"v": 1}, {"v": 2}]}, "mark": {"type": "tick", "orient": "vertical", "size": 5, "thickness": 1, "color": "#bfbfbf", "yOffset": 2.5}, "encoding": {"x": {"field": "v", "type": "quantitative", "axis": null}, "y": {"datum": 0, "axis": null}}},
  {"data": {"values": [{"v": -4}, {"v": -3}, {"v": -2}, {"v": -1}, {"v": 1}, {"v": 2}, {"v": 3}, {"v": 4}]}, "mark": {"type": "tick", "orient": "horizontal", "size": 5, "thickness": 1, "color": "#bfbfbf", "xOffset": -2.5}, "encoding": {"y": {"field": "v", "type": "quantitative", "axis": null}, "x": {"datum": 0, "axis": null}}},
  {"mark": {"type": "point", "filled": true, "opacity": 1, "size": 68},
   "encoding": {
    "x": {"field": "x", "type": "quantitative", "scale": {"domain": [-2, 2], "range": [14, 390], "nice": false, "zero": false}, "axis": null},
    "y": {"field": "y", "type": "quantitative", "scale": {"domain": [-4, 4], "range": [937, 669], "nice": false, "zero": false}, "axis": null},
    "color": {"field": "g", "type": "nominal", "scale": {"domain": ["CRC", "Control"], "range": ["#2b83c6", "#e04a4a"]},
      "legend": {"orient": "none", "legendX": 25, "legendY": 676.75, "title": null, "labelFontSize": 16.5, "labelOffset": 2, "rowPadding": 15.5, "symbolSize": 64}},
    "shape": {"field": "g", "type": "nominal", "scale": {"domain": ["CRC", "Control"], "range": ["diamond", "square"]},
      "legend": {"orient": "none", "legendX": 25, "legendY": 676.75, "title": null, "labelFontSize": 16.5, "labelOffset": 2, "rowPadding": 15.5, "symbolSize": 64}}
   }},
  {"data": {"values": [{"t": "PC1"}]}, "mark": {"type": "text", "fontSize": 16, "fontWeight": "bold", "color": "#262626", "align": "center", "baseline": "middle", "dy": 20},
   "encoding": {"x": {"datum": 1.92, "axis": null}, "y": {"datum": 0, "axis": null}, "text": {"field": "t"}}},
  {"data": {"values": [{"t": "PC2"}]}, "mark": {"type": "text", "fontSize": 16, "fontWeight": "bold", "color": "#262626", "align": "center", "baseline": "middle", "angle": 270},
   "encoding": {"x": {"datum": -0.165, "axis": null}, "y": {"datum": 3.52, "axis": null}, "text": {"field": "t"}}},
  {"data": {"values": [{"t": "e"}]}, "mark": {"type": "text", "fontSize": 25, "fontWeight": "bold", "color": "#000000", "align": "center", "baseline": "alphabetic"},
   "encoding": {"x": {"datum": -2.021, "axis": null}, "y": {"datum": 3.522, "axis": null}, "text": {"field": "t"}}},
  {"data": {"values": [{"t": "Q-TOF-MS"}]}, "mark": {"type": "text", "fontSize": 24, "fontWeight": "bold", "color": "#ff0000", "align": "center", "baseline": "alphabetic"},
   "encoding": {"x": {"datum": 1.681, "axis": null}, "y": {"datum": 4.179, "axis": null}, "text": {"field": "t"}}}
 ]},
 {"data": {"name": "f"}, "layer": [
  {"data": {"values": [{}]}, "mark": {"type": "rule", "color": "#bfbfbf", "strokeWidth": 1}, "encoding": {"x": {"datum": -2.5, "axis": null}, "x2": {"datum": 2.5}, "y": {"datum": 0, "axis": null}}},
  {"data": {"values": [{}]}, "mark": {"type": "rule", "color": "#bfbfbf", "strokeWidth": 1}, "encoding": {"x": {"datum": 0, "axis": null}, "y": {"datum": 0, "axis": null}, "y2": {"datum": 4}}},
  {"data": {"values": [{"v": -2.5}, {"v": -1.5}, {"v": -0.5}, {"v": 0.5}, {"v": 1.5}, {"v": 2.5}]}, "mark": {"type": "tick", "orient": "vertical", "size": 4, "thickness": 1, "color": "#bfbfbf", "yOffset": 2}, "encoding": {"x": {"field": "v", "type": "quantitative", "axis": null}, "y": {"datum": 0, "axis": null}}},
  {"data": {"values": [{"v": -2.5}, {"v": -1.5}, {"v": -0.5}, {"v": 0.5}, {"v": 1.5}, {"v": 2.5}]}, "mark": {"type": "text", "fontSize": 11, "fontWeight": "bold", "color": "#404040", "align": "center", "baseline": "middle", "dy": 18}, "encoding": {"x": {"field": "v", "type": "quantitative", "axis": null}, "y": {"datum": 0, "axis": null}, "text": {"field": "v", "type": "nominal"}}},
  {"data": {"values": [{"v": 0}, {"v": 1}, {"v": 2}, {"v": 3}, {"v": 4}]}, "mark": {"type": "tick", "orient": "horizontal", "size": 4, "thickness": 1, "color": "#bfbfbf", "xOffset": -2}, "encoding": {"y": {"field": "v", "type": "quantitative", "axis": null}, "x": {"datum": 0, "axis": null}}},
  {"data": {"values": [{"v": 0}, {"v": 1}, {"v": 2}, {"v": 3}, {"v": 4}]}, "mark": {"type": "text", "fontSize": 11, "fontWeight": "bold", "color": "#404040", "align": "right", "baseline": "middle", "dx": -6}, "encoding": {"y": {"field": "v", "type": "quantitative", "axis": null}, "x": {"datum": 0, "axis": null}, "text": {"field": "v", "type": "nominal"}}},
  {"mark": {"type": "point", "filled": true, "opacity": 1},
   "encoding": {
    "x": {"field": "x", "type": "quantitative", "scale": {"domain": [-2.5, 2.5], "range": [435, 781], "nice": false, "zero": false}, "axis": null},
    "y": {"field": "y", "type": "quantitative", "scale": {"domain": [0, 4], "range": [903, 668], "nice": false, "zero": false}, "axis": null},
    "color": {"field": "g", "type": "nominal", "scale": {"domain": ["Fold<=2", "Fold>2, P<0.05"], "range": ["#2b83c6", "#ee1c24"]},
      "legend": {"orient": "none", "legendX": 661, "legendY": 680.5, "title": null, "labelFontSize": 15, "labelOffset": 3, "rowPadding": 22, "symbolSize": 64}},
    "shape": {"field": "g", "type": "nominal", "scale": {"domain": ["Fold<=2", "Fold>2, P<0.05"], "range": ["diamond", "circle"]},
      "legend": {"orient": "none", "legendX": 661, "legendY": 680.5, "title": null, "labelFontSize": 15, "labelOffset": 3, "rowPadding": 22, "symbolSize": 64}},
    "size": {"field": "g", "type": "ordinal", "scale": {"domain": ["Fold<=2", "Fold>2, P<0.05"], "range": [56, 72]}, "legend": null}
   }},
  {"data": {"values": [{}]}, "mark": {"type": "rule", "color": "#e8232a", "strokeWidth": 4, "strokeDash": [23, 10]},
   "encoding": {"x": {"datum": -2.376, "axis": null}, "x2": {"datum": 2.41}, "y": {"datum": 1.458, "axis": null}}},
  {"data": {"values": [{"t": "Log2(Fold)"}]}, "mark": {"type": "text", "fontSize": 18, "fontWeight": "bold", "color": "#262626", "align": "center", "baseline": "middle", "dy": 31.5},
   "encoding": {"x": {"datum": -0.014, "axis": null}, "y": {"datum": 0, "axis": null}, "text": {"field": "t"}}},
  {"data": {"values": [{"t": "-Log10(P)"}]}, "mark": {"type": "text", "fontSize": 18, "fontWeight": "bold", "color": "#262626", "align": "center", "baseline": "middle", "angle": 270},
   "encoding": {"x": {"datum": -2.626, "axis": null}, "y": {"datum": 2.23, "axis": null}, "text": {"field": "t"}}},
  {"data": {"values": [{"t": "f"}]}, "mark": {"type": "text", "fontSize": 25, "fontWeight": "bold", "color": "#000000", "align": "center", "baseline": "alphabetic"},
   "encoding": {"x": {"datum": -2.713, "axis": null}, "y": {"datum": 3.626, "axis": null}, "text": {"field": "t"}}}
 ]}
],
"resolve": {
 "scale": {"x": "independent", "y": "independent", "color": "independent", "shape": "independent", "size": "independent"},
 "legend": {"color": "independent", "shape": "independent", "size": "independent"}
}
}
